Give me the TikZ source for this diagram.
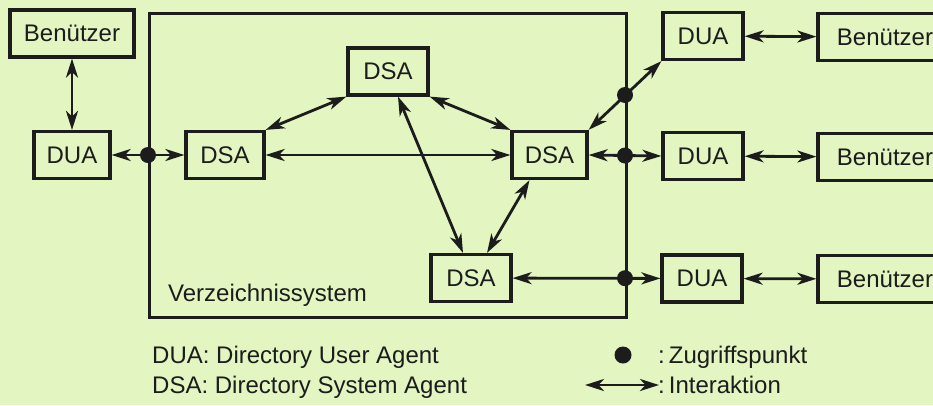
\documentclass[tikz,border=0pt]{standalone}
\usepackage{fontspec}
\setmainfont{Liberation Sans}
\usetikzlibrary{arrows.meta}
\definecolor{bg}{RGB}{227,245,193}
\definecolor{ink}{RGB}{28,28,28}
\begin{document}
\begin{tikzpicture}[x=1pt,y=-1pt,
  box/.style={draw=ink, line width=3.2pt, minimum height=47pt, inner sep=0pt,
    font=\fontsize{24}{27}\selectfont, text=ink},
  tip/.tip={Stealth[length=19pt,width=12pt,inset=5.5pt]},
  link/.style={draw=ink, line width=2.8pt, tip-tip},
  apt/.style={circle, fill=ink, minimum size=16pt, inner sep=0pt},
  lbl/.style={font=\fontsize{24}{27}\selectfont, text=ink, inner sep=0pt, anchor=base west}]

\fill[bg] (0,0) rectangle (933,405);
\useasboundingbox (0,0) rectangle (933,405);
\clip (0,0) rectangle (933,405);

% system boundary
\node[draw=ink, line width=3.2pt, minimum width=477pt, minimum height=304pt,
  inner sep=0pt, anchor=north west] (vs) at (148,12) {};
\node[lbl] (vl) at (168,301) {Verzeichnissystem};

% boxes
\node[box, minimum width=124pt] (b1) at (72,33.5) {Benützer};
\node[box, minimum width=76pt] (u1) at (72,155) {DUA};
\node[box, minimum width=78pt] (s1) at (225,155) {DSA};
\node[box, minimum width=80pt] (s2) at (388,71.5) {DSA};
\node[box, minimum width=75pt] (s3) at (549.5,155) {DSA};
\node[box, minimum width=80pt] (s4) at (471,278) {DSA};
\node[box, minimum width=80pt] (u2) at (703,36) {DUA};
\node[box, minimum width=80pt] (u3) at (703,156) {DUA};
\node[box, minimum width=80pt] (u4) at (702,278.5) {DUA};
\node[box, minimum width=134pt] (r1) at (885,37) {Benützer};
\node[box, minimum width=134pt] (r2) at (885,157) {Benützer};
\node[box, minimum width=134pt] (r3) at (885,279) {Benützer};

% interactions
\draw[link] (b1) -- (u1);
\draw[link] (u1) -- (s1);
\draw[link] (s1) -- (s3);
\draw[link] (s1.north east) -- (s2.south west);
\draw[link] (s2.south east) -- (s3.north west);
\draw[link] ([xshift=10pt]s2.south) -- ([xshift=-8pt]s4.north);
\draw[link] ([xshift=16pt]s4.north) -- ([xshift=-20pt]s3.south);
\draw[link] (s3.north east) -- (u2.south west);
\draw[link] (s3.east) -- (u3.west);
\draw[link] (s4) -- (u4);
\draw[link] (u2) -- (r1);
\draw[link] (u3) -- (r2);
\draw[link] (u4) -- (r3);

% access points
\node[apt] (d1) at (148,155) {};
\node[apt] (d2) at (625,95) {};
\node[apt] (d3) at (625,155.5) {};
\node[apt] (d4) at (625,278.2) {};

% legend
\node[lbl] (l1) at (152,363) {DUA: Directory User Agent};
\node[lbl] (l2) at (152,393) {DSA: Directory System Agent};
\node[apt, minimum size=17pt] (ld) at (623,355) {};
\node[lbl] (l3) at (658,363) {:\hspace{4pt}Zugriffspunkt};
\node[lbl] (l4) at (658,393) {:\hspace{4pt}Interaktion};
\coordinate (la1) at (585,385);
\coordinate (la2) at (659,385);
\draw[link] (la1) -- (la2);
\end{tikzpicture}
\end{document}
